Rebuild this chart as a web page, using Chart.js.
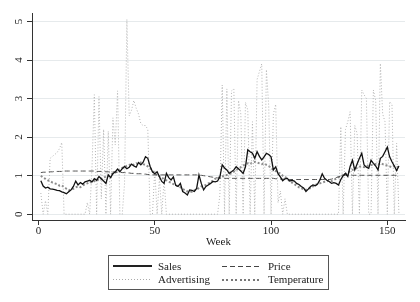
<!DOCTYPE html>
<html>
<head>
<meta charset="utf-8">
<script src="https://cdn.jsdelivr.net/npm/chart.js@4.4.1/dist/chart.umd.min.js"></script>
<style>
	html, body { margin: 0; padding: 0; background: #fff; }
	#wrap { position: relative; width: 420px; height: 302px; }
	#legend {
		position: absolute; left: 108px; top: 255px; width: 221px; height: 35px;
		border: 1px solid #555; box-sizing: border-box;
		font: 11px "Liberation Serif", serif; color: #222;
	}
	.key { position: absolute; width: 39px; }
	.label { position: absolute; line-height: 12px; white-space: nowrap; }
</style>
</head>
<body>
<div id="wrap">
	<canvas id="chart" width="420" height="302"></canvas>
	<div id="legend"></div>
</div>
<script>
'use strict';

var firstWeek = 1;
var lastWeek = 155;

var sales = [
	0.87, 0.73, 0.68, 0.70, 0.66, 0.65, 0.64, 0.62, 0.61, 0.58,
	0.56, 0.53, 0.58, 0.63, 0.72, 0.86, 0.76, 0.82, 0.78, 0.84,
	0.86, 0.88, 0.84, 0.92, 0.88, 0.98, 0.92, 0.86, 0.80, 1.02,
	0.95, 1.05, 1.10, 1.17, 1.10, 1.18, 1.24, 1.18, 1.22, 1.30,
	1.25, 1.22, 1.34, 1.28, 1.35, 1.49, 1.45, 1.24, 1.10, 1.05,
	1.10, 0.97, 0.85, 0.80, 1.06, 0.95, 0.89, 0.97, 0.75, 0.72,
	0.80, 0.59, 0.55, 0.50, 0.63, 0.62, 0.59, 0.67, 1.02, 0.80,
	0.63, 0.72, 0.76, 0.80, 0.85, 0.84, 0.86, 0.97, 1.28, 1.20,
	1.15, 1.06, 1.10, 1.15, 1.23, 1.18, 1.12, 1.06, 1.23, 1.67,
	1.62, 1.58, 1.45, 1.62, 1.50, 1.41, 1.49, 1.58, 1.55, 1.49,
	1.15, 1.23, 1.05, 0.97, 0.87, 0.92, 0.93, 0.86, 0.88, 0.86,
	0.80, 0.77, 0.72, 0.68, 0.59, 0.65, 0.72, 0.76, 0.74, 0.78,
	0.89, 1.05, 0.93, 0.88, 0.85, 0.80, 0.82, 0.80, 0.76, 0.90,
	1.00, 1.06, 0.98, 1.24, 1.40, 1.15, 1.30, 1.45, 1.58, 1.28,
	1.22, 1.19, 1.40, 1.32, 1.25, 1.15, 1.45, 1.50, 1.62, 1.74,
	1.49, 1.36, 1.25, 1.13, 1.25
];

var price = [
	1.08, 1.09, 1.09, 1.10, 1.10, 1.10, 1.11, 1.11, 1.11, 1.11,
	1.12, 1.12, 1.12, 1.12, 1.12, 1.12, 1.12, 1.12, 1.12, 1.12,
	1.12, 1.12, 1.12, 1.12, 1.11, 1.11, 1.11, 1.11, 1.10, 1.10,
	1.10, 1.10, 1.09, 1.09, 1.09, 1.08, 1.08, 1.07, 1.07, 1.06,
	1.06, 1.05, 1.05, 1.05, 1.04, 1.04, 1.03, 1.03, 1.02, 1.02,
	1.02, 1.02, 1.02, 1.02, 1.02, 1.02, 1.02, 1.02, 1.02, 1.02,
	1.02, 1.02, 1.02, 1.02, 1.02, 1.02, 1.02, 1.02, 1.01, 1.01,
	1.00, 0.99, 0.98, 0.97, 0.96, 0.95, 0.94, 0.94, 0.93, 0.93,
	0.93, 0.93, 0.93, 0.93, 0.93, 0.93, 0.93, 0.93, 0.93, 0.93,
	0.93, 0.93, 0.93, 0.93, 0.93, 0.93, 0.93, 0.93, 0.93, 0.93,
	0.93, 0.92, 0.92, 0.91, 0.91, 0.91, 0.90, 0.90, 0.90, 0.90,
	0.90, 0.90, 0.90, 0.90, 0.90, 0.90, 0.90, 0.90, 0.90, 0.90,
	0.90, 0.90, 0.90, 0.90, 0.90, 0.91, 0.93, 0.95, 0.97, 0.99,
	1.00, 1.01, 1.01, 1.01, 1.01, 1.01, 1.01, 1.01, 1.01, 1.01,
	1.01, 1.01, 1.01, 1.01, 1.01, 1.01, 1.01, 1.01, 1.01, 1.01,
	1.01, 1.01, 1.01, 1.01, 1.01
];

var advertising = [
	0.55, 0, 0.35, 0, 1.45, 1.50, 1.55, 1.60, 1.70, 1.86,
	0, 0, 0, 0, 0, 0, 0, 0, 0, 0,
	0.3, 0, 1.2, 3.1, 0, 3.05, 0.4, 2.2, 0, 2.15,
	0, 2.5, 1.8, 3.2, 0, 0, 0.8, 5.05, 2.55, 2.7,
	2.95, 2.75, 2.6, 2.35, 2.3, 2.3, 2.2, 0, 0, 1.15,
	0, 0.95, 0, 0.9, 0, 0, 0, 0, 0, 0,
	0, 0, 0, 0, 0, 0, 0, 0, 0, 0,
	0, 0, 0, 0, 0, 0, 0, 0.5, 3.35, 0,
	3.25, 0, 3.2, 3.25, 0, 2.95, 2.6, 0, 2.9, 2.7,
	0, 2.4, 0, 3.5, 3.7, 3.9, 0, 3.75, 2.8, 0,
	2.6, 2.85, 0.3, 0.6, 0, 0.4, 0, 0, 0, 0,
	0, 0, 0, 0, 0, 0, 0, 0, 0, 0,
	0, 0, 0, 0, 0, 0, 0, 0, 0, 2.27,
	0, 2.2, 2.4, 2.66, 0, 2.3, 2.1, 0, 3.22, 3.1,
	3.0, 0, 0, 3.22, 2.95, 0, 3.91, 2.6, 2.4, 0,
	2.92, 2.85, 0, 1.84, 0
];

var temperature = [
	1.00, 0.95, 0.92, 0.88, 0.86, 0.82, 0.80, 0.78, 0.74, 0.75,
	0.70, 0.66, 0.62, 0.64, 0.66, 0.70, 0.72, 0.70, 0.74, 0.78,
	0.80, 0.84, 0.82, 0.86, 0.90, 0.88, 0.92, 0.95, 0.98, 1.00,
	1.02, 1.06, 1.08, 1.12, 1.15, 1.20, 1.22, 1.26, 1.28, 1.30,
	1.28, 1.32, 1.30, 1.34, 1.30, 1.28, 1.24, 1.20, 1.12, 1.05,
	1.02, 0.98, 0.96, 0.90, 0.88, 0.84, 0.82, 0.78, 0.76, 0.72,
	0.70, 0.66, 0.62, 0.59, 0.60, 0.58, 0.62, 0.64, 0.68, 0.72,
	0.74, 0.76, 0.80, 0.82, 0.88, 0.92, 0.94, 0.96, 0.98, 1.00,
	1.02, 1.04, 1.06, 1.10, 1.15, 1.18, 1.22, 1.26, 1.30, 1.32,
	1.30, 1.34, 1.36, 1.34, 1.32, 1.30, 1.32, 1.28, 1.25, 1.20,
	1.15, 1.12, 1.08, 1.06, 1.00, 0.97, 0.92, 0.86, 0.82, 0.78,
	0.74, 0.70, 0.68, 0.64, 0.63, 0.66, 0.68, 0.72, 0.76, 0.78,
	0.80, 0.82, 0.84, 0.85, 0.88, 0.86, 0.89, 0.92, 0.96, 0.98,
	1.02, 1.04, 1.08, 1.12, 1.15, 1.18, 1.20, 1.23, 1.24, 1.22,
	1.25, 1.26, 1.28, 1.28, 1.30, 1.28, 1.32, 1.30, 1.28, 1.26,
	1.24, 1.22, 1.25, 1.22, 1.23
];

var xTicks = [ 0, 50, 100, 150 ];
var yTicks = [ 0, 1, 2, 3, 4, 5 ];
var xTitle = 'Week';
var seriesNames = [ 'Sales', 'Price', 'Advertising', 'Temperature' ];

var FONT = '11px "Liberation Serif", serif';

/**
 * Pair each weekly value with its week number.
 *
 * @param {Array} values Weekly values.
 * @return {Array} Points for Chart.js.
 */
function toPoints( values ) {
	return values.map( function( v, i ) {
		return { x: firstWeek + i, y: v };
	} );
}

/**
 * Draws tick labels and the axis title the way Stata places them
 * (y labels turned on their side).
 */
var axisText = {
	id: 'axisText',
	afterDraw: function( chart ) {
		var ctx = chart.ctx;
		var area = chart.chartArea;
		var xScale = chart.scales.x;
		var yScale = chart.scales.y;

		ctx.save();
		ctx.font = FONT;
		ctx.fillStyle = '#222';
		ctx.textAlign = 'center';
		ctx.textBaseline = 'middle';

		xTicks.forEach( function( v ) {
			ctx.fillText( String( v ), xScale.getPixelForValue( v ), area.bottom + 11 );
		} );
		ctx.fillText( xTitle, ( area.left + area.right ) / 2, area.bottom + 22.5 );

		yTicks.forEach( function( v ) {
			ctx.save();
			ctx.translate( area.left - 13, yScale.getPixelForValue( v ) );
			ctx.rotate( -Math.PI / 2 );
			ctx.fillText( String( v ), 0, 0 );
			ctx.restore();
		} );
		ctx.restore();
	}
};

var styles = [
	{ color: '#111', width: 1.3, dash: [] },
	{ color: '#555', width: 1, dash: [ 5, 3 ] },
	{ color: '#b3b3b3', width: 1, dash: [ 1, 2 ] },
	{ color: '#8c8c8c', width: 2, dash: [ 2, 2 ] }
];
var seriesData = [ sales, price, advertising, temperature ];

new Chart( document.getElementById( 'chart' ), {
	type: 'line',
	data: {
		datasets: seriesNames.map( function( name, i ) {
			return {
				label: name,
				data: toPoints( seriesData[ i ] ),
				borderColor: styles[ i ].color,
				borderWidth: styles[ i ].width,
				borderDash: styles[ i ].dash,
				pointRadius: 0,
				tension: 0,
				fill: false
			};
		} )
	},
	options: {
		responsive: false,
		animation: false,
		devicePixelRatio: 1,
		layout: { padding: { left: 0, right: 15, top: 13, bottom: 0 } },
		plugins: {
			legend: { display: false },
			tooltip: { enabled: false }
		},
		scales: {
			x: {
				type: 'linear',
				min: -2.8,
				max: 157.6,
				afterBuildTicks: function( axis ) {
					axis.ticks = xTicks.map( function( v ) {
						return { value: v };
					} );
				},
				afterFit: function( axis ) {
					axis.height = 82;
				},
				ticks: { display: false },
				grid: {
					drawOnChartArea: false,
					drawTicks: true,
					tickLength: 5,
					color: '#333',
					tickColor: '#333'
				},
				border: { color: '#333', width: 1 }
			},
			y: {
				min: -0.15,
				max: 5.22,
				afterBuildTicks: function( axis ) {
					axis.ticks = yTicks.map( function( v ) {
						return { value: v };
					} );
				},
				afterFit: function( axis ) {
					axis.width = 32;
				},
				ticks: { display: false },
				grid: {
					color: '#e6eaec',
					tickColor: '#333',
					tickLength: 5,
					lineWidth: 1
				},
				border: { color: '#333', width: 1 }
			}
		}
	},
	plugins: [ axisText ]
} );

// Legend box under the plot, two columns.
var keyBackgrounds = [
	'#222',
	'repeating-linear-gradient(90deg, #444 0 5px, transparent 5px 8px)',
	'repeating-linear-gradient(90deg, #aaa 0 1px, transparent 1px 3px)',
	'repeating-linear-gradient(90deg, #777 0 2px, transparent 2px 4.4px)'
];
var keyHeights = [ 1.3, 1, 1, 2 ];
var legendEl = document.getElementById( 'legend' );

seriesNames.forEach( function( name, i ) {
	var col = i % 2;
	var row = Math.floor( i / 2 );
	var cy = row === 0 ? 10 : 23.5;
	var key = document.createElement( 'div' );
	var label = document.createElement( 'div' );

	key.className = 'key';
	key.style.left = ( col === 0 ? 4 : 113 ) + 'px';
	key.style.top = ( cy - keyHeights[ i ] / 2 ) + 'px';
	key.style.height = keyHeights[ i ] + 'px';
	key.style.background = keyBackgrounds[ i ];

	label.className = 'label';
	label.style.left = ( col === 0 ? 49 : 159 ) + 'px';
	label.style.top = ( cy - 6.5 ) + 'px';
	label.textContent = name;

	legendEl.appendChild( key );
	legendEl.appendChild( label );
} );
</script>
</body>
</html>
